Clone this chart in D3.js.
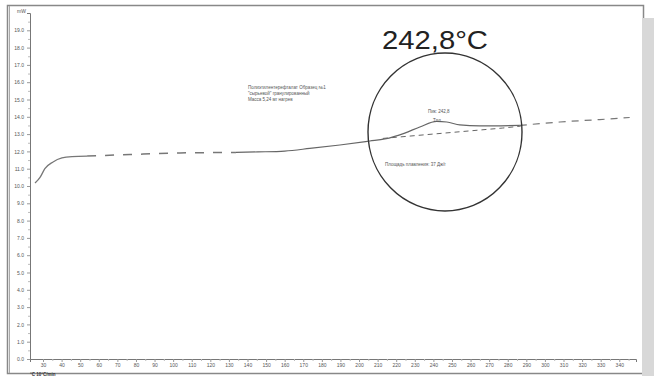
<!DOCTYPE html>
<html><head><meta charset="utf-8">
<script src="https://cdn.jsdelivr.net/npm/d3@7"></script>
<style>html,body{margin:0;padding:0;background:#fff;}svg{display:block;}</style>
</head><body>
<svg id="c" width="654" height="376"></svg>
<script>
// Temperature (°C) and heat flow readings
const temps    = [25.7, 28.4, 31, 35.4, 40.2, 45.6, 53.7, 76.8, 103.7, 133.8, 145.6, 160, 173.5, 189.7, 205.8, 213.9, 224.6, 232.7, 241.8, 247.2, 254.2, 265, 286.5, 308, 329.5, 345.6];
const heatFlow = [10.17, 10.5, 11.0, 11.39, 11.62, 11.7, 11.73, 11.82, 11.91, 11.94, 11.97, 12.02, 12.17, 12.37, 12.6, 12.72, 13.06, 13.41, 13.73, 13.7, 13.53, 13.47, 13.5, 13.7, 13.84, 13.96];
const baseTemps = [212.8, 245, 277.3, 287];
const baseFlow  = [12.75, 13.05, 13.35, 13.46];
const xTicks = d3.range(30, 341, 10);
const yTicks = d3.range(0, 20, 1);
const peakLabel = "242,8°C";

const svg = d3.select("#c");
// frame
svg.append("rect").attr("x",7.5).attr("y",5.5).attr("width",636).attr("height",368).attr("fill","none").attr("stroke","#888").attr("stroke-width",1.5);
svg.append("line").attr("x1",9.5).attr("x2",9.5).attr("y1",6).attr("y2",373).attr("stroke","#aaa");
svg.append("rect").attr("x",642).attr("y",18).attr("width",12).attr("height",358).attr("fill","#d8d8d8");

const x = d3.scaleLinear().domain([23, 349]).range([30, 636]);
const y = d3.scaleLinear().domain([0, 20]).range([359, 13]);

const gx = svg.append("g").attr("transform","translate(0,359)")
  .call(d3.axisBottom(x).tickValues(xTicks).tickSize(3).tickPadding(2).tickFormat(d3.format("d")));
gx.select(".domain").attr("stroke","#777");
gx.selectAll(".tick line").attr("stroke","#999");
gx.selectAll("text").attr("font-size",5).attr("fill","#555").attr("font-family","Arial").attr("dy","0.6em");
svg.append("g").attr("transform","translate(0,359)")
  .call(d3.axisBottom(x).tickValues(xTicks.map(d=>d+5)).tickSize(2).tickFormat(""))
  .call(g=>{g.select(".domain").remove(); g.selectAll("line").attr("stroke","#bbb");});

const gy = svg.append("g").attr("transform","translate(30,0)")
  .call(d3.axisLeft(y).tickValues(yTicks).tickSize(3).tickFormat(d3.format(".1f")));
gy.select(".domain").attr("stroke","#777");
gy.selectAll(".tick line").attr("stroke","#999");
gy.selectAll("text").attr("font-size",5).attr("fill","#555").attr("font-family","Arial");
svg.append("g").attr("transform","translate(30,0)")
  .call(d3.axisLeft(y).tickValues(yTicks.map(d=>d+0.5)).tickSize(2).tickFormat(""))
  .call(g=>{g.select(".domain").remove(); g.selectAll("line").attr("stroke","#bbb");});
svg.append("text").attr("x",26).attr("y",13).attr("font-size",5).attr("fill","#555").attr("text-anchor","end").attr("font-family","Arial").text("mW");
svg.append("text").attr("x",30).attr("y",375.5).attr("font-size",4.5).attr("font-weight","bold").attr("fill","#333").attr("font-family","Arial").text("°C 10°C/min");

const line = d3.line().x(d=>x(d[0])).y(d=>y(d[1])).curve(d3.curveMonotoneX);
const pts = temps.map((t,i)=>[t, heatFlow[i]]);
const seg = (a,b)=>pts.filter(p=>p[0]>=a && p[0]<=b);
svg.append("path").datum(seg(20,54)).attr("d",line).attr("fill","none").attr("stroke","#777").attr("stroke-width",1.3);
svg.append("path").datum(seg(53,134)).attr("d",line).attr("fill","none").attr("stroke","#777").attr("stroke-width",1.5).attr("stroke-dasharray","9,9");
svg.append("path").datum(seg(133,290)).attr("d",line).attr("fill","none").attr("stroke","#666").attr("stroke-width",1.2);
svg.append("path").datum(seg(286,350)).attr("d",line).attr("fill","none").attr("stroke","#777").attr("stroke-width",1.2).attr("stroke-dasharray","7,6");
const bpts = baseTemps.map((t,i)=>[t, baseFlow[i]]);
svg.append("path").datum(bpts).attr("d",d3.line().x(d=>x(d[0])).y(d=>y(d[1]))).attr("fill","none").attr("stroke","#666").attr("stroke-width",1).attr("stroke-dasharray","5,4");

// highlight circle
svg.append("ellipse").attr("cx",445).attr("cy",132).attr("rx",77).attr("ry",79).attr("fill","none").attr("stroke","#333").attr("stroke-width",1.4);
svg.append("text").attr("x",382).attr("y",49).attr("font-size",25).attr("fill","#222").attr("font-family","Arial, Liberation Sans, sans-serif").attr("textLength",106).attr("lengthAdjust","spacingAndGlyphs").text(peakLabel);

// small annotations
const small = (tx,ty,s)=>svg.append("text").attr("x",tx).attr("y",ty).attr("font-size",4.5).attr("fill","#555").attr("font-family","Arial").text(s);
small(248,89,"Полиэтилентерефталат  Образец  №1");
small(248,95,"\"сырьевой\"  гранулированный");
small(248,101,"Масса  5,24 мг  нагрев");
small(428,113,"Пик: 242,8");
small(433,122,"Tпл");
small(385,166,"Площадь  плавления:  37 Дж/г");
</script>
</body></html>
